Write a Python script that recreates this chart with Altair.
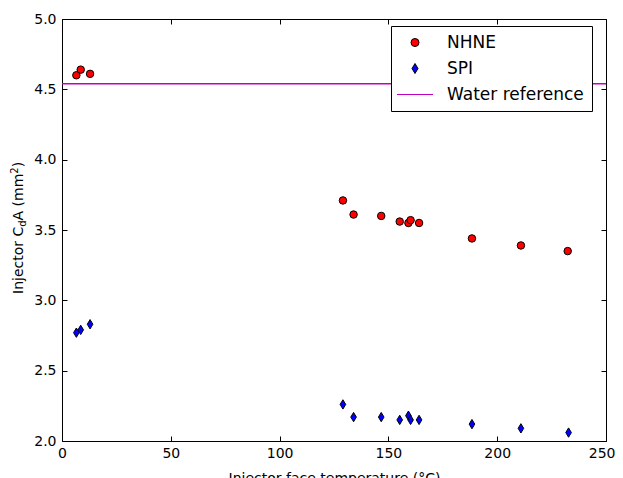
import altair as alt
import pandas as pd

# ---- data ----
nhne_temp = [6.6, 8.6, 12.9, 129.1, 134.0, 146.7, 155.2, 159.2, 160.2, 164.1, 188.4, 210.9, 232.4]
nhne_cda = [4.60, 4.64, 4.61, 3.71, 3.61, 3.60, 3.56, 3.55, 3.57, 3.55, 3.44, 3.39, 3.35]

spi_temp = [6.6, 8.6, 12.9, 129.1, 134.0, 146.7, 155.2, 159.2, 160.2, 164.1, 188.4, 210.9, 232.8]
spi_cda = [2.77, 2.79, 2.83, 2.26, 2.17, 2.17, 2.15, 2.18, 2.15, 2.15, 2.12, 2.09, 2.06]

water_ref = 4.54
x_range = [0, 250]
y_range = [2.0, 5.0]
x_ticks = [0, 50, 100, 150, 200, 250]
y_ticks = [2.0, 2.5, 3.0, 3.5, 4.0, 4.5, 5.0]
series_names = ["NHNE", "SPI", "Water reference"]

# ---- layout / style ----
W, H = 544, 422
FONT = "DejaVu Sans"
MAGENTA = "#bf00bf"
DIAMOND = "M0,-1.25L0.75,0L0,1.25L-0.75,0Z"
LINE_SYM = "M-4.5,0L4.5,0"

df = pd.DataFrame({
    "temp": nhne_temp + spi_temp,
    "cda": nhne_cda + spi_cda,
    "series": ["NHNE"] * len(nhne_temp) + ["SPI"] * len(spi_temp),
})
water = pd.DataFrame({"temp": [x_range[0]], "temp2": [x_range[1]], "cda": [water_ref]})

xscale = alt.Scale(domain=x_range, nice=False, zero=False)
yscale = alt.Scale(domain=y_range, nice=False, zero=False)

legend = alt.Legend(
    title=None, orient="none", legendX=329, legendY=7,
    padding=8, strokeColor="black", fillColor="white", cornerRadius=0,
    labelFontSize=17, labelFont=FONT, labelColor="black",
    symbolSize=64, symbolOffset=7.5, labelOffset=23.5,
    rowPadding=8, symbolStrokeWidth=1,
)

last_tick = "datum.value == %d" % x_ticks[-1]

points = alt.Chart(df).mark_point(filled=True, opacity=1, strokeWidth=1, size=56).encode(
    x=alt.X("temp:Q", scale=xscale, axis=alt.Axis(
        orient="bottom", values=x_ticks, ticks=False, domain=False, grid=False,
        labelFlush=False, labelOverlap=False, labelPadding=5, labelFontSize=14,
        labelAlign=alt.ConditionalAxisLabelAlign(
            condition={"test": last_tick, "value": "right"}, value="center"),
        labelOffset=alt.ConditionalAxisNumber(
            condition={"test": last_tick, "value": 9}, value=0),
        title="Injector face temperature (°C)", titleFontSize=14,
        titleFontWeight="normal", titlePadding=11)),
    y=alt.Y("cda:Q", scale=yscale, axis=alt.Axis(
        orient="left", values=y_ticks, format=".1f", ticks=False, domain=False,
        grid=False, labelFlush=False, labelOverlap=False, labelPadding=6,
        labelFontSize=14, title=None)),
    fill=alt.Fill("series:N", scale=alt.Scale(domain=series_names,
                  range=["#ff0000", "#0000ff", MAGENTA]), legend=legend),
    shape=alt.Shape("series:N", scale=alt.Scale(domain=series_names,
                    range=["circle", DIAMOND, LINE_SYM]), legend=legend),
    stroke=alt.Stroke("series:N", scale=alt.Scale(domain=series_names,
                      range=["#000000", "#000000", MAGENTA]), legend=legend),
)

tick_axis = dict(labels=False, domain=False, grid=False, ticks=True,
                 tickSize=5, tickColor="black", tickWidth=1, title=None)

rule = alt.Chart(water).mark_rule(color=MAGENTA, strokeWidth=1.4).encode(
    x=alt.X("temp:Q", scale=xscale,
            axis=alt.Axis(orient="top", offset=-H, values=x_ticks, **tick_axis)),
    x2="temp2:Q",
    y=alt.Y("cda:Q", scale=yscale,
            axis=alt.Axis(orient="right", offset=-W, values=y_ticks, **tick_axis)),
)

ticks_other = alt.Chart(df).mark_point(opacity=0).encode(
    x=alt.X("temp:Q", scale=xscale,
            axis=alt.Axis(orient="bottom", offset=-H, values=x_ticks, **tick_axis)),
    y=alt.Y("cda:Q", scale=yscale,
            axis=alt.Axis(orient="left", offset=-W, values=y_ticks, **tick_axis)),
)


def piece(txt, size, xv, yv):
    return alt.Chart(alt.Data(values=[{}])).mark_text(
        text=txt, angle=270, align="left", baseline="alphabetic",
        fontSize=size, font=FONT, color="black",
    ).encode(x=alt.value(xv), y=alt.value(yv))


y0 = 275
w1 = 67.2
w2 = 6.35
w3 = 46.8
w4 = 6.36
title_parts = [
    piece("Injector C", 14, -39, y0),
    piece("d", 10, -36, y0 - w1),
    piece("A (mm", 14, -39, y0 - w1 - w2),
    piece("2", 10, -44, y0 - w1 - w2 - w3),
    piece(")", 14, -39, y0 - w1 - w2 - w3 - w4),
]

chart = alt.layer(points, rule, ticks_other, *title_parts).resolve_scale(
    x="independent", y="independent"
).properties(
    width=W, height=H,
    padding={"left": 54, "top": 11, "right": 9, "bottom": 40},
    autosize=alt.AutoSizeParams(type="none"),
).configure_view(stroke="black", strokeWidth=1).configure_axis(
    labelFont=FONT, titleFont=FONT, labelColor="black", titleColor="black"
)

chart.save("out.html", embed_options={"renderer": "svg", "actions": False})
